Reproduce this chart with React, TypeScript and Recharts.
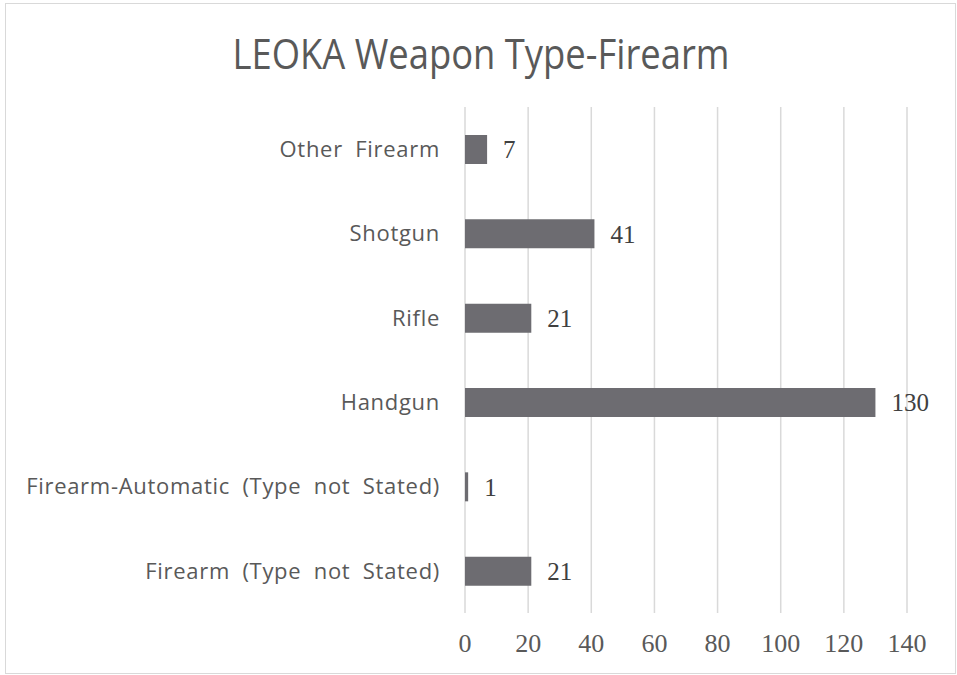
import { BarChart, Bar, XAxis, YAxis, CartesianGrid, LabelList } from 'recharts'

const categories = [
  'Other Firearm',
  'Shotgun',
  'Rifle',
  'Handgun',
  'Firearm-Automatic (Type not Stated)',
  'Firearm (Type not Stated)',
]
const counts = [7, 41, 21, 130, 1, 21]
const xTicks = [0, 20, 40, 60, 80, 100, 120, 140]

const data = categories.map((name, i) => ({ name, value: counts[i] }))

const App = () => {
  return (
    <div style={{ position: 'absolute', left: 0, top: 0, width: 957, height: 675, background: '#fff' }}>
      <div
        style={{
          position: 'absolute',
          left: 5,
          top: 3,
          width: 949,
          height: 669,
          border: '1px solid #d9d9d9',
        }}
      />
      <svg width={957} height={100} style={{ position: 'absolute', left: 0, top: 0 }}>
        <text
          x={481}
          y={69}
          textAnchor="middle"
          fontFamily="'Open Sans', sans-serif"
          fontSize={42}
          fill="#595959"
          textLength={497}
          lengthAdjust="spacingAndGlyphs"
        >
          LEOKA Weapon Type-Firearm
        </text>
      </svg>
      <div style={{ position: 'absolute', left: 0, top: 0 }}>
        <BarChart
          layout="vertical"
          width={957}
          height={675}
          data={data}
          margin={{ top: 107, right: 50, bottom: 0, left: 0 }}
          barSize={29}
        >
          <CartesianGrid horizontal={false} stroke="#d9d9d9" strokeWidth={1.5} />
          <XAxis
            type="number"
            domain={[0, 140]}
            ticks={xTicks}
            axisLine={false}
            tickLine={false}
            tickSize={0}
            tickMargin={21}
            height={62}
            tick={{ fill: '#595959', fontSize: 26, fontFamily: "'Liberation Serif', serif" }}
          />
          <YAxis
            type="category"
            dataKey="name"
            width={465}
            axisLine={false}
            tickLine={false}
            tickSize={0}
            tickMargin={25}
            interval={0}
            tick={{
              fill: '#595959',
              fontSize: 22,
              fontFamily: "'Open Sans', sans-serif",
              letterSpacing: 0.7,
              wordSpacing: 6,
            }}
          />
          <Bar dataKey="value" fill="#6d6c71" isAnimationActive={false}>
            <LabelList
              dataKey="value"
              position="right"
              offset={16}
              fill="#404040"
              fontSize={25}
              fontFamily="'Liberation Serif', serif"
            />
          </Bar>
        </BarChart>
      </div>
    </div>
  )
}

export default App
